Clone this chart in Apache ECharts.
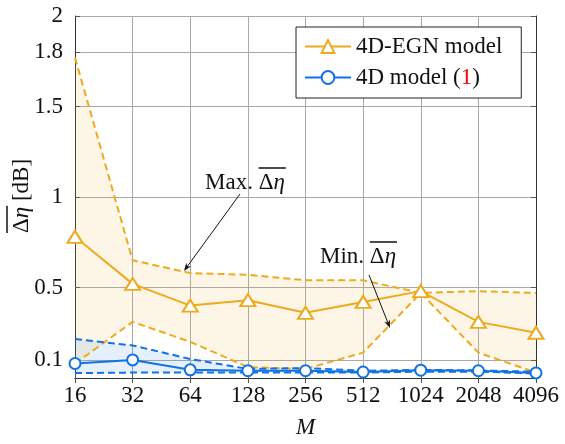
<!DOCTYPE html>
<html><head><meta charset="utf-8">
<script src="https://cdn.jsdelivr.net/npm/echarts@6/dist/echarts.min.js"></script>
<style>html,body{margin:0;padding:0;background:#fff}#wrap{position:relative;width:565px;height:444px}#c{width:565px;height:444px}#ov{position:absolute;left:0;top:0;pointer-events:none}</style>
</head><body><div id="wrap"><div id="c"></div><svg id="ov" width="565" height="444" xmlns="http://www.w3.org/2000/svg"></svg></div><script>
const categories = ['16','32','64','128','256','512','1024','2048','4096'];
const egnMean = [0.78,0.52,0.40,0.43,0.36,0.42,0.48,0.31,0.25];
const egnMax  = [1.77,0.65,0.58,0.57,0.54,0.54,0.47,0.48,0.47];
const egnMin  = [0.08,0.31,0.20,0.06,0.05,0.14,0.47,0.14,0.03];
const modelMean = [0.08,0.10,0.045,0.04,0.04,0.033,0.043,0.04,0.028];
const modelMax  = [0.215,0.18,0.105,0.05,0.055,0.04,0.045,0.042,0.035];
const modelMin  = [0.027,0.03,0.03,0.03,0.03,0.03,0.035,0.035,0.025];
const yTicks = [0.1,0.5,1,1.5,1.8,2];

const FF = "Liberation Serif";
const FS = 23;
const ORANGE = '#EDAA1F';
const BLUE = '#1072E6';
const GRID = '#a8a8a8';
const chart = echarts.init(document.getElementById('c'));

function diff(a,b){ return a.map((v,i)=>+(v-b[i]).toFixed(4)); }
function tickStyle(extra){ return Object.assign({show:true, inside:true, length:5, lineStyle:{color:'#555', width:1}}, extra||{}); }
function frameLine(){ return {show:true, lineStyle:{color:'#333', width:1}}; }

function measure(txt, style){
  const c = document.createElement('canvas').getContext('2d');
  c.font = (style||'') + ' ' + FS + 'px "' + FF + '"';
  return c.measureText(txt).width;
}

// ---- annotation overlay (real text) ----
const NS = 'http://www.w3.org/2000/svg';
const svg = document.getElementById('ov');
function el(tag, attrs, parent, txt){
  const e = document.createElementNS(NS, tag);
  for (const k in attrs) e.setAttribute(k, attrs[k]);
  if (txt != null) e.textContent = txt;
  (parent || svg).appendChild(e);
  return e;
}
function txt(parent, x, y, s, italic){
  const t = el('text', {x:x, y:y, 'font-family':FF, 'font-size':FS, 'font-style':italic?'italic':'normal',
    fill:'#111', 'dominant-baseline':'central'}, parent, s);
  t.setAttributeNS('http://www.w3.org/XML/1998/namespace', 'xml:space', 'preserve');
  t.style.whiteSpace = 'pre';
}
function overText(parent, x, y, prefix){
  const wp = prefix ? measure(prefix) : 0, wd = measure('Δ'), we = measure('η','italic');
  if (prefix) txt(parent, x, y, prefix);
  txt(parent, x+wp, y, 'Δ');
  txt(parent, x+wp+wd, y, 'η', true);
  el('line', {x1:x+wp, y1:y-13, x2:x+wp+wd+we+1, y2:y-13, stroke:'#111', 'stroke-width':1.5}, parent);
  return wp+wd+we;
}
function arrow(x1,y1,x2,y2){
  const ang = Math.atan2(y2-y1, x2-x1);
  const L = 8, W = 3;
  const bx = x2 - L*Math.cos(ang), by = y2 - L*Math.sin(ang);
  const px = -Math.sin(ang), py = Math.cos(ang);
  el('line', {x1:x1, y1:y1, x2:(bx+x2)/2, y2:(by+y2)/2, stroke:'#111', 'stroke-width':1});
  const pts = [[x2,y2],[bx+px*W,by+py*W],[bx+(x2-bx)*0.3,by+(y2-by)*0.3],[bx-px*W,by-py*W]];
  el('polygon', {points: pts.map(p=>p.join(',')).join(' '), fill:'#111'});
}

const dash = [7,4];
const option = {
  animation:false,
  grid:{left:75, right:29, top:16, bottom:64},
  legend:{
    left:296, top:27, orient:'vertical',
    data:['4D-EGN model','4D model (1)'],
    backgroundColor:'#fff', borderColor:'#222', borderWidth:1, borderRadius:0,
    padding:[8,19,9,8], itemGap:8, itemWidth:46, itemHeight:16,
    textStyle:{fontFamily:FF, fontSize:FS, color:'#111', rich:{n:{fontFamily:FF, fontSize:FS, color:'#111'}, r:{color:'#f00', fontFamily:FF, fontSize:FS}}},
    formatter: n => n==='4D model (1)' ? '{n|4D model (}{r|1}{n|)}' : '{n|' + n + '}'
  },
  xAxis:[
    {type:'category', data:categories, boundaryGap:false, position:'bottom',
     axisLine:frameLine(), axisTick:tickStyle({interval:0}),
     axisLabel:{interval:0, fontFamily:FF, fontSize:FS, color:'#111', margin:6},
     splitLine:{show:true, interval:0, lineStyle:{color:GRID, width:1, type:'solid'}},
     name:'M', nameLocation:'middle', nameGap:38,
     nameTextStyle:{fontFamily:FF, fontSize:FS, fontStyle:'italic', color:'#111'}},
    {type:'category', data:categories, boundaryGap:false, position:'top',
     axisLine:frameLine(), axisTick:tickStyle({interval:0}), axisLabel:{show:false}, splitLine:{show:false}}
  ],
  yAxis:[
    {type:'value', min:0, max:2, position:'left',
     axisLine:frameLine(), axisTick:tickStyle({customValues:yTicks}),
     axisLabel:{customValues:yTicks, formatter:v=>String(v), fontFamily:FF, fontSize:FS, color:'#111', margin:12},
     splitLine:{show:true, lineStyle:{color:GRID, width:1, type:'solid'}}},
    {type:'value', min:0, max:2, position:'right',
     axisLine:frameLine(), axisTick:tickStyle({customValues:yTicks}),
     axisLabel:{show:false}, splitLine:{show:false}}
  ],
  series:[
    {name:'egnBase', type:'line', stack:'egn', data:egnMin, symbol:'none', lineStyle:{opacity:0}, silent:true, z:1},
    {name:'egnBand', type:'line', stack:'egn', data:diff(egnMax,egnMin), symbol:'none', lineStyle:{opacity:0},
     areaStyle:{color:'rgba(240,170,30,0.17)'}, silent:true, z:1},
    {name:'modelBase', type:'line', stack:'model', data:modelMin, symbol:'none', lineStyle:{opacity:0}, silent:true, z:1},
    {name:'modelBand', type:'line', stack:'model', data:diff(modelMax,modelMin), symbol:'none', lineStyle:{opacity:0},
     areaStyle:{color:'rgba(16,114,230,0.15)'}, silent:true, z:1},
    {name:'egnMaxL', type:'line', data:egnMax, symbol:'none', lineStyle:{color:ORANGE, width:2, type:dash}, z:3},
    {name:'egnMinL', type:'line', data:egnMin, symbol:'none', lineStyle:{color:ORANGE, width:2, type:dash}, z:3},
    {name:'modelMaxL', type:'line', data:modelMax, symbol:'none', lineStyle:{color:BLUE, width:2, type:dash}, z:3},
    {name:'modelMinL', type:'line', data:modelMin, symbol:'none', lineStyle:{color:BLUE, width:2, type:dash}, z:3},
    {name:'4D-EGN model', type:'line', data:egnMean, symbol:'triangle', symbolSize:[15,12],
     itemStyle:{color:'#fff', borderColor:ORANGE, borderWidth:2}, lineStyle:{color:ORANGE, width:2}, z:5},
    {name:'4D model (1)', type:'line', data:modelMean, symbol:'circle', symbolSize:11,
     itemStyle:{color:'#fff', borderColor:BLUE, borderWidth:2}, lineStyle:{color:BLUE, width:2}, z:5}
  ]
};
chart.setOption(option);

// y-axis title, rotated
const yg = el('g', {transform:'translate(20,196) rotate(-90)'});
const yW = measure('Δ') + measure('η','italic') + measure(' [dB]');
const x0 = -yW/2;
const wDE = overText(yg, x0, 0, '');
txt(yg, x0 + wDE, 0, '\u00A0[dB]');

overText(svg, 205, 181, 'Max. ');
arrow(240, 194, 184, 271);
overText(svg, 320, 255, 'Min. ');
arrow(369, 275, 390, 328);
</script></body></html>
